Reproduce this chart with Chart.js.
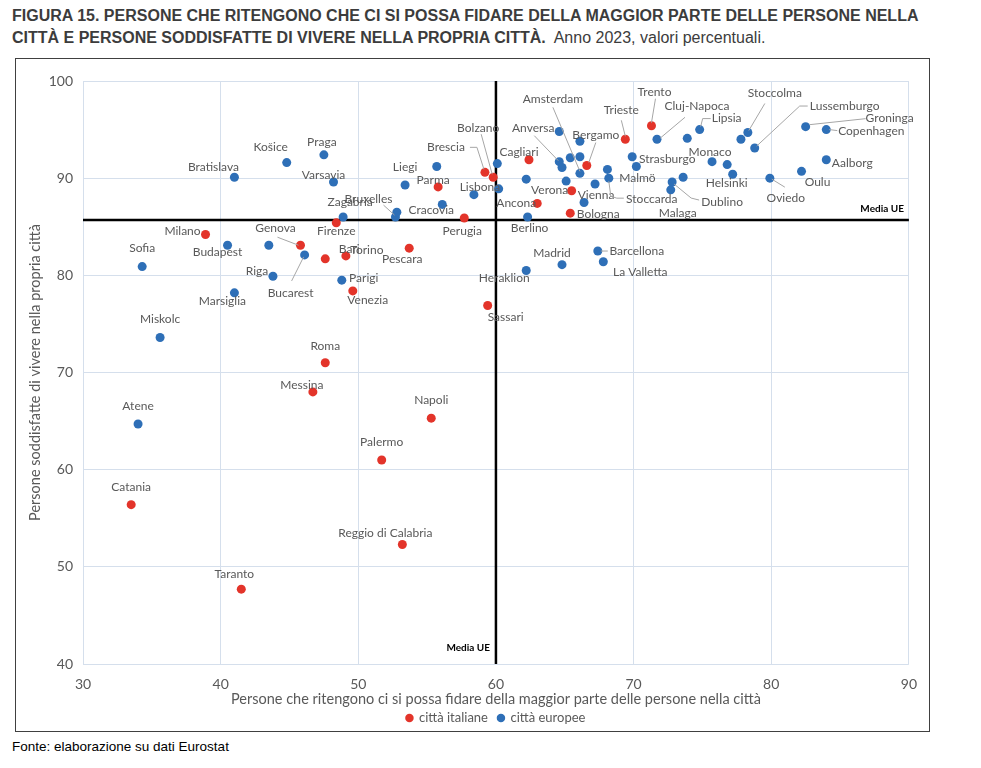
<!DOCTYPE html>
<html lang="it">
<head>
<meta charset="utf-8">
<title>Figura 15</title>
<script src="https://cdn.jsdelivr.net/npm/chart.js@4.4.1/dist/chart.umd.min.js"></script>
<style>
  body { margin: 0; width: 981px; height: 768px; background: #fff; position: relative; overflow: hidden; }
  #title { position: absolute; left: 12px; top: 5px; width: 968px; font-family: "Liberation Sans Narrow", "Arial Narrow", sans-serif; font-size: 16px; line-height: 22px; color: #3c3c3c; white-space: nowrap; }
  #title .n { font-weight: normal; }
  #frame { position: absolute; left: 15px; top: 58px; width: 913px; height: 672px; border: 1px solid #404040; }
  #wrap { position: absolute; left: 16px; top: 59px; width: 913px; height: 680px; }
  #source { position: absolute; left: 12px; top: 739px; font-family: "Liberation Sans Narrow", "Arial Narrow", sans-serif; font-size: 13.5px; color: #000; }
</style>
</head>
<body>
<div id="title"><b>FIGURA 15. PERSONE CHE RITENGONO CHE CI SI POSSA FIDARE DELLA MAGGIOR PARTE DELLE PERSONE NELLA<br>CITTÀ E PERSONE SODDISFATTE DI VIVERE NELLA PROPRIA CITTÀ.</b><span class="n">&nbsp; Anno 2023, valori percentuali.</span></div>
<div id="frame"></div>
<div id="wrap"><canvas id="cityChart" width="913" height="680"></canvas></div>
<div id="source">Fonte: elaborazione su dati Eurostat</div>
<script>
// città italiane
const italianCities = ['Milano', 'Genova', 'Firenze', 'Bari', 'Torino', 'Pescara', 'Venezia', 'Parma', 'Perugia',
    'Brescia', 'Bolzano', 'Sassari', 'Cagliari', 'Ancona', 'Verona', 'Bologna', 'Bergamo', 'Trieste', 'Trento',
    'Roma', 'Messina', 'Napoli', 'Palermo', 'Reggio di Calabria', 'Catania', 'Taranto'];
const italianTrust = [38.9, 45.8, 48.4, 47.6, 49.1, 53.7, 49.6, 55.8, 57.7,
    59.2, 59.8, 59.4, 62.4, 63.0, 65.5, 65.4, 66.6, 69.4, 71.3,
    47.6, 46.7, 55.3, 51.7, 53.2, 33.5, 41.5];
const italianSatisfied = [84.2, 83.1, 85.4, 81.7, 82.0, 82.8, 78.4, 89.1, 85.9,
    90.6, 90.1, 76.9, 91.9, 87.4, 88.7, 86.4, 91.3, 94.0, 95.4,
    71.0, 68.0, 65.3, 61.0, 52.3, 56.4, 47.7];

// città europee (nome vuoto = punto senza etichetta)
const europeanCities = ['Bratislava', 'Košice', 'Praga', 'Varsavia', 'Zagabria', 'Bruxelles', '', 'Liegi', '',
    'Cracovia', 'Lisbona', '', '', '', 'Berlino', 'Amsterdam', 'Anversa', '', '', '', '', '', '',
    'Vienna', '', 'Malmö', 'Stoccarda', 'Strasburgo', '', 'Cluj-Napoca', '', 'Lipsia', 'Monaco', '',
    'Helsinki', '', 'Dublino', 'Malaga', 'Stoccolma', '', 'Lussemburgo', 'Oviedo', 'Oulu', 'Groninga',
    'Copenhagen', 'Aalborg', 'Barcellona', 'La Valletta', 'Madrid', 'Heraklion', 'Budapest', '',
    'Bucarest', 'Riga', 'Marsiglia', 'Sofia', 'Parigi', 'Miskolc', 'Atene'];
const europeanTrust = [41.0, 44.8, 47.5, 48.2, 48.9, 52.7, 52.8, 53.4, 55.7,
    56.1, 58.4, 60.1, 60.2, 62.2, 62.3, 66.1, 64.6, 64.8, 64.6, 66.1, 66.1, 65.4, 65.1,
    66.4, 67.2, 68.1, 68.2, 69.9, 70.2, 71.7, 73.9, 74.8, 75.7, 76.8,
    77.2, 73.6, 72.8, 72.7, 78.3, 77.8, 78.8, 79.9, 82.2, 82.5,
    84.0, 84.0, 67.4, 67.8, 64.8, 62.2, 40.5, 43.5,
    46.1, 43.8, 41.0, 34.3, 48.8, 35.6, 34.0];
const europeanSatisfied = [90.1, 91.6, 92.4, 89.6, 86.0, 86.0, 86.5, 89.3, 91.2,
    87.3, 88.3, 91.5, 88.9, 89.9, 86.0, 90.5, 91.7, 91.1, 94.8, 93.8, 92.2, 92.1, 89.7,
    87.5, 89.4, 90.9, 90.0, 92.2, 91.2, 94.0, 94.1, 95.0, 91.7, 91.4,
    90.4, 90.1, 89.6, 88.8, 94.7, 94.0, 93.1, 90.0, 90.7, 95.3,
    95.0, 91.9, 82.5, 81.4, 81.1, 80.5, 83.1, 83.1,
    82.1, 79.9, 78.2, 80.9, 79.5, 73.6, 64.7];

// media UE
const euAverageTrust = 60;
const euAverageSatisfied = 85.7;

// posizione delle etichette rispetto al punto (px) ed eventuale linea di richiamo
const labelPlacement = {
    'Milano': [-23, -3], 'Genova': [-25, -17, [[-23, -8], [-2, 0]]], 'Firenze': [0, 8],
    'Bari': [24, -10], 'Torino': [21, -6], 'Pescara': [-7, 11], 'Venezia': [15, 9],
    'Parma': [-5, -7], 'Perugia': [-2, 13], 'Brescia': [-39, -25, [[-15, -25], [-8, -25], [-1, -3]]],
    'Bolzano': [-15, -49, [[-12, -43], [-1, -3]]], 'Sassari': [18, 12], 'Cagliari': [-10, -8],
    'Ancona': [-21, 0], 'Verona': [-22, -1], 'Bologna': [28, 1], 'Bergamo': [9, -30, [[9, -23], [2, -3]]],
    'Trieste': [-4, -29, [[-4, -19], [0, -3]]], 'Trento': [3, -34, [[4, -27], [0, -3]]],
    'Roma': [0, -17], 'Messina': [-11, -7], 'Napoli': [0, -18], 'Palermo': [0, -18],
    'Reggio di Calabria': [-17, -11], 'Catania': [0, -18], 'Taranto': [-7, -15],
    'Bratislava': [-21, -10], 'Košice': [-16, -15], 'Praga': [-2, -13], 'Varsavia': [-10, -7],
    'Zagabria': [7, -15], 'Bruxelles': [-27, -18, [[-12, -12], [-1, -2]]], 'Liegi': [0, -18],
    'Cracovia': [-11, 6], 'Lisbona': [6, -8], 'Berlino': [2, 11],
    'Amsterdam': [-27, -74, [[-27, -66], [0, -2]]], 'Anversa': [-26, -34, [[-25, -26], [-1, -1]]],
    'Vienna': [12, -7], 'Malmö': [30, 9], 'Stoccarda': [43, 21, [[0, 3], [2, 18], [8, 20], [15, 20]]],
    'Strasburgo': [35, 2], 'Cluj-Napoca': [40, -33, [[28, -22], [3, -1]]],
    'Lipsia': [27, -11, [[11, -11], [3, -11], [1, -3]]], 'Monaco': [-2, -10], 'Helsinki': [-6, 9],
    'Dublino': [50, 20, [[2, 2], [19, 16], [27, 18]]], 'Malaga': [7, 23],
    'Stoccolma': [27, -39, [[17, -29], [1, -2]]], 'Lussemburgo': [90, -42, [[53, -42], [45, -42], [2, -2]]],
    'Groninga': [84, -9, [[4, -2], [60, -8]]], 'Copenhagen': [45, 2, [[3, 0], [11, 1]]],
    'Aalborg': [26, 3], 'Oulu': [16, 11], 'Oviedo': [16, 20, [[2, 1], [15, 9]]],
    'Barcellona': [39, 0, [[3, 0], [10, 0]]], 'La Valletta': [37, 10], 'Madrid': [-10, -12],
    'Heraklion': [-22, 8], 'Budapest': [-10, 7], 'Bucarest': [-14, 38, [[-13, 26], [-1, 2]]],
    'Riga': [-16, -5], 'Marsiglia': [-12, 8], 'Sofia': [0, -18], 'Parigi': [22, -2],
    'Miskolc': [0, -18], 'Atene': [0, -18]
};

function toPoints(xs, ys) {
    return xs.map((x, i) => ({ x: x, y: ys[i] }));
}

// linee nere della media UE, sotto i punti
const euAveragePlugin = {
    id: 'euAverage',
    beforeDatasetsDraw(chart) {
        const { ctx, chartArea, scales } = chart;
        const xPix = scales.x.getPixelForValue(euAverageTrust);
        const yPix = scales.y.getPixelForValue(euAverageSatisfied);
        ctx.save();
        ctx.strokeStyle = '#000';
        ctx.lineWidth = 2.5;
        ctx.beginPath();
        ctx.moveTo(chartArea.left, yPix);
        ctx.lineTo(chartArea.right, yPix);
        ctx.moveTo(xPix, chartArea.top);
        ctx.lineTo(xPix, chartArea.bottom);
        ctx.stroke();
        ctx.fillStyle = '#000';
        ctx.font = 'bold 10px Lato';
        ctx.textAlign = 'right';
        ctx.textBaseline = 'middle';
        ctx.fillText('Media UE', chartArea.right - 5, yPix - 11);
        ctx.fillText('Media UE', xPix - 6, chartArea.bottom - 16);
        ctx.restore();
    }
};

// etichette delle città con linee di richiamo
const cityLabelPlugin = {
    id: 'cityLabels',
    afterDatasetsDraw(chart) {
        const ctx = chart.ctx;
        ctx.save();
        ctx.font = '12px Lato';
        ctx.textAlign = 'center';
        ctx.textBaseline = 'middle';
        chart.data.datasets.forEach((ds, d) => {
            const meta = chart.getDatasetMeta(d);
            ds.cityNames.forEach((name, i) => {
                const place = labelPlacement[name];
                if (!name || !place) return;
                const pt = meta.data[i];
                if (place[2]) {
                    ctx.strokeStyle = '#a6a6a6';
                    ctx.lineWidth = 1;
                    ctx.beginPath();
                    place[2].forEach((p, k) => {
                        if (k === 0) ctx.moveTo(pt.x + p[0], pt.y + p[1]);
                        else ctx.lineTo(pt.x + p[0], pt.y + p[1]);
                    });
                    ctx.stroke();
                }
                ctx.fillStyle = '#595959';
                ctx.fillText(name, pt.x + place[0], pt.y + place[1]);
            });
        });
        ctx.restore();
    }
};

const ctx = document.getElementById('cityChart').getContext('2d');
window.cityChart = new Chart(ctx, {
    type: 'scatter',
    data: {
        datasets: [{
            label: 'città italiane',
            data: toPoints(italianTrust, italianSatisfied),
            cityNames: italianCities,
            backgroundColor: '#e3342a',
            borderWidth: 0,
            pointRadius: 4.5
        }, {
            label: 'città europee',
            data: toPoints(europeanTrust, europeanSatisfied),
            cityNames: europeanCities,
            backgroundColor: '#2e6fb7',
            borderWidth: 0,
            pointRadius: 4.5
        }]
    },
    options: {
        responsive: false,
        animation: false,
        devicePixelRatio: 1,
        layout: { padding: { top: 22, right: 12, bottom: 4.5, left: 0 } },
        scales: {
            x: {
                type: 'linear',
                min: 30,
                max: 90,
                ticks: { stepSize: 10, padding: 12, color: '#595959', font: { family: 'Lato', size: 14 } },
                grid: { color: '#d5dfec', drawTicks: false },
                border: { display: false },
                title: {
                    display: true,
                    text: 'Persone che ritengono ci si possa fidare della maggior parte delle persone nella città',
                    color: '#595959',
                    font: { family: 'Lato', size: 14.5, lineHeight: 0.345 },
                    padding: { top: 0, bottom: 0 }
                },
                afterFit: s => { s.height = 37.5; }
            },
            y: {
                type: 'linear',
                min: 40,
                max: 100,
                ticks: { stepSize: 10, padding: 10, color: '#595959', font: { family: 'Lato', size: 14 } },
                grid: { color: '#d5dfec', drawTicks: false },
                border: { display: false },
                title: {
                    display: true,
                    text: 'Persone soddisfatte di vivere nella propria città',
                    color: '#595959',
                    font: { family: 'Lato', size: 14.5 },
                    padding: { top: 11, bottom: 0 }
                },
                afterFit: s => { s.width = 67; }
            }
        },
        plugins: {
            legend: {
                position: 'bottom',
                fullSize: false,
                labels: {
                    usePointStyle: true,
                    pointStyle: 'circle',
                    boxWidth: 6,
                    boxHeight: 6,
                    padding: 10,
                    color: '#595959',
                    font: { family: 'Lato', size: 13 }
                }
            },
            tooltip: { enabled: false }
        }
    },
    plugins: [euAveragePlugin, cityLabelPlugin]
});
</script>
</body>
</html>
